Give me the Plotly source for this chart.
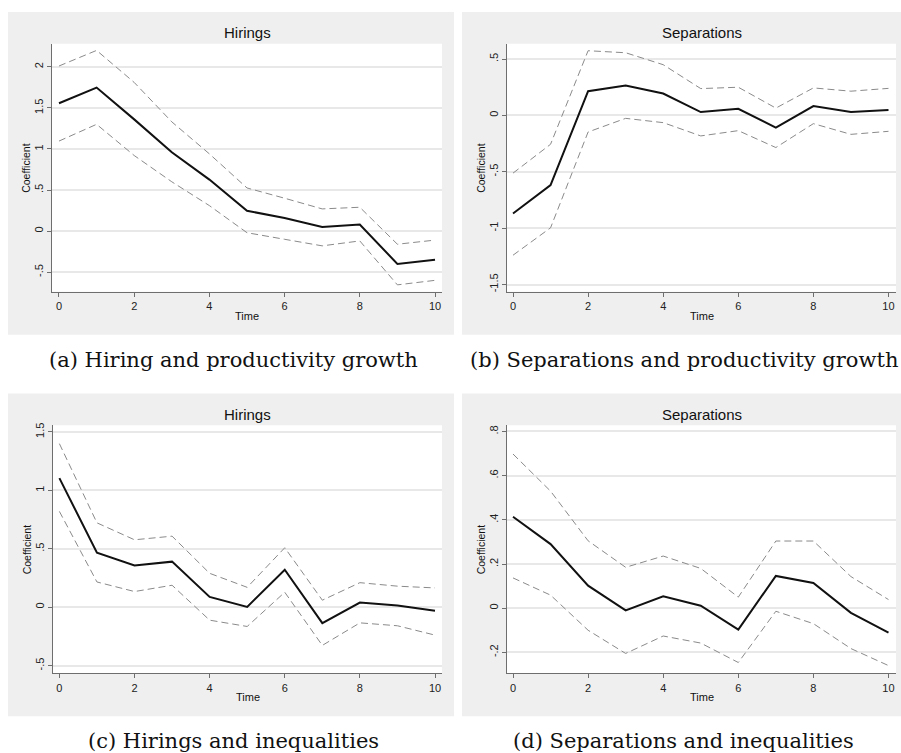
import plotly.graph_objects as go

# ---- data -------------------------------------------------------------
time = [0, 1, 2, 3, 4, 5, 6, 7, 8, 9, 10]

# (a) Hiring and productivity growth
hire_prod = [1.557, 1.747, 1.36, 0.96, 0.627, 0.247, 0.16, 0.05, 0.08, -0.40, -0.35]
hire_prod_hi = [2.01, 2.20, 1.81, 1.33, 0.94, 0.525, 0.40, 0.27, 0.29, -0.16, -0.11]
hire_prod_lo = [1.096, 1.30, 0.92, 0.60, 0.31, -0.02, -0.10, -0.18, -0.12, -0.655, -0.60]

# (b) Separations and productivity growth
sep_prod = [-0.87, -0.618, 0.215, 0.265, 0.194, 0.03, 0.059, -0.109, 0.083, 0.03, 0.048]
sep_prod_hi = [-0.512, -0.256, 0.574, 0.556, 0.45, 0.238, 0.25, 0.065, 0.244, 0.215, 0.24]
sep_prod_lo = [-1.24, -0.997, -0.147, -0.026, -0.064, -0.182, -0.135, -0.285, -0.073, -0.168, -0.141]

# (c) Hirings and inequalities
hire_ineq = [1.105, 0.466, 0.358, 0.39, 0.088, 0.003, 0.321, -0.136, 0.04, 0.014, -0.031]
hire_ineq_hi = [1.40, 0.722, 0.577, 0.608, 0.29, 0.17, 0.509, 0.06, 0.21, 0.18, 0.165]
hire_ineq_lo = [0.82, 0.216, 0.134, 0.188, -0.111, -0.165, 0.128, -0.327, -0.134, -0.159, -0.239]

# (d) Separations and inequalities
sep_ineq = [0.414, 0.29, 0.102, -0.01, 0.054, 0.011, -0.097, 0.146, 0.114, -0.021, -0.111]
sep_ineq_hi = [0.698, 0.53, 0.305, 0.185, 0.236, 0.18, 0.05, 0.304, 0.304, 0.143, 0.039]
sep_ineq_lo = [0.137, 0.059, -0.10, -0.205, -0.126, -0.158, -0.246, -0.014, -0.07, -0.183, -0.26]

x_ticks = [0, 2, 4, 6, 8, 10]
y_ticks_a = [-0.5, 0, 0.5, 1, 1.5, 2]
y_labels_a = ["-.5", "0", ".5", "1", "1.5", "2"]
y_ticks_b = [-1.5, -1, -0.5, 0, 0.5]
y_labels_b = ["-1.5", "-1", "-.5", "0", ".5"]
y_ticks_c = [-0.5, 0, 0.5, 1, 1.5]
y_labels_c = ["-.5", "0", ".5", "1", "1.5"]
y_ticks_d = [-0.2, 0, 0.2, 0.4, 0.6, 0.8]
y_labels_d = ["-.2", "0", ".2", ".4", ".6", ".8"]

panel_titles = ["Hirings", "Separations", "Hirings", "Separations"]
captions = ["(a) Hiring and productivity growth",
            "(b) Separations and productivity growth",
            "(c) Hirings and inequalities",
            "(d) Separations and inequalities"]

# ---- page geometry (pixels) ------------------------------------------
W, H = 901, 753


def px(x):
    return x / W


def py(y):
    return 1 - y / H


# plot boxes: (left, right, top, bottom) in pixels
boxes = [(52, 442, 41, 290), (507, 896, 41, 290),
         (53, 442, 424, 673), (507, 896, 424, 673)]
# grey graph regions
regions = [(8, 454, 9, 333), (462, 901, 9, 333),
           (8, 454, 392, 716), (462, 901, 392, 716)]
x_ranges = [[-0.186, 10.186], [-0.16, 10.2], [-0.17, 10.186], [-0.16, 10.2]]
y_ranges = [[-0.74, 2.28], [-1.565, 0.635], [-0.566, 1.557], [-0.295, 0.828]]
y_ticks = [y_ticks_a, y_ticks_b, y_ticks_c, y_ticks_d]
y_labels = [y_labels_a, y_labels_b, y_labels_c, y_labels_d]
series = [(hire_prod, hire_prod_hi, hire_prod_lo),
          (sep_prod, sep_prod_hi, sep_prod_lo),
          (hire_ineq, hire_ineq_hi, hire_ineq_lo),
          (sep_ineq, sep_ineq_hi, sep_ineq_lo)]

SANS = "Liberation Sans, Arial, sans-serif"
SERIF = "DejaVu Serif, serif"
AXIS_COL = "#6e6e6e"
GRID_COL = "#e8e8e8"

fig = go.Figure()
layout = dict(width=W, height=H, margin=dict(l=0, r=0, t=0, b=0),
              paper_bgcolor="white", plot_bgcolor="white", showlegend=False,
              shapes=[], annotations=[])

for i in range(4):
    n = "" if i == 0 else str(i + 1)
    xa, ya = "x" + n, "y" + n
    mid, hi, lo = series[i]
    for vals in (hi, lo):
        fig.add_trace(go.Scatter(x=time, y=vals, mode="lines", xaxis=xa, yaxis=ya,
                                 line=dict(color="#8a8a8a", width=1, dash="7px,4px")))
    fig.add_trace(go.Scatter(x=time, y=mid, mode="lines", xaxis=xa, yaxis=ya,
                             line=dict(color="#111111", width=2)))

    l, r, t, b = boxes[i]
    layout["xaxis" + n] = dict(
        domain=[px(l), px(r)], anchor=ya, range=x_ranges[i],
        tickvals=x_ticks, ticks="outside", ticklen=4, tickcolor=AXIS_COL,
        showline=True, linecolor=AXIS_COL, linewidth=1, showgrid=False,
        zeroline=False, tickfont=dict(family=SANS, size=11, color="#222"))
    layout["yaxis" + n] = dict(
        domain=[py(b), py(t)], anchor=xa, range=y_ranges[i],
        tickvals=y_ticks[i], ticktext=y_labels[i], tickangle=-90,
        ticks="outside", ticklen=4, tickcolor=AXIS_COL,
        showline=True, linecolor=AXIS_COL, linewidth=1,
        showgrid=True, gridcolor=GRID_COL, gridwidth=1.6, zeroline=False,
        tickfont=dict(family=SANS, size=11, color="#222"))

    # grey graph region, then the white plot box on top of it
    gl, gr, gt, gb = regions[i]
    layout["shapes"].append(dict(type="rect", xref="paper", yref="paper",
                                 x0=px(gl), x1=px(gr), y0=py(gb), y1=py(gt),
                                 fillcolor="#efefef", line=dict(width=0), layer="below"))
    layout["shapes"].append(dict(type="rect", xref="paper", yref="paper",
                                 x0=px(l), x1=px(r), y0=py(b), y1=py(t),
                                 fillcolor="white", line=dict(width=0), layer="below"))
    cx = (l + r) / 2
    layout["annotations"] += [
        dict(text=panel_titles[i], x=px(cx), y=py(t - 11), xref="paper", yref="paper",
             showarrow=False, xanchor="center", yanchor="middle",
             font=dict(family=SANS, size=15, color="#111")),
        dict(text="Time", x=px(cx), y=py(b + 24), xref="paper", yref="paper",
             showarrow=False, xanchor="center", yanchor="middle",
             font=dict(family=SANS, size=11, color="#111")),
        dict(text="Coefficient", x=px(l - 26), y=py((t + b) / 2), xref="paper", yref="paper",
             showarrow=False, xanchor="center", yanchor="middle", textangle=-90,
             font=dict(family=SANS, size=10.5, color="#111")),
        dict(text=captions[i], x=px((gl + gr) / 2 + 2), y=py(gb + 25), xref="paper", yref="paper",
             showarrow=False, xanchor="center", yanchor="middle",
             font=dict(family=SERIF, size=21, color="#111")),
    ]

fig.update_layout(**layout)
fig.write_html("out.html")
